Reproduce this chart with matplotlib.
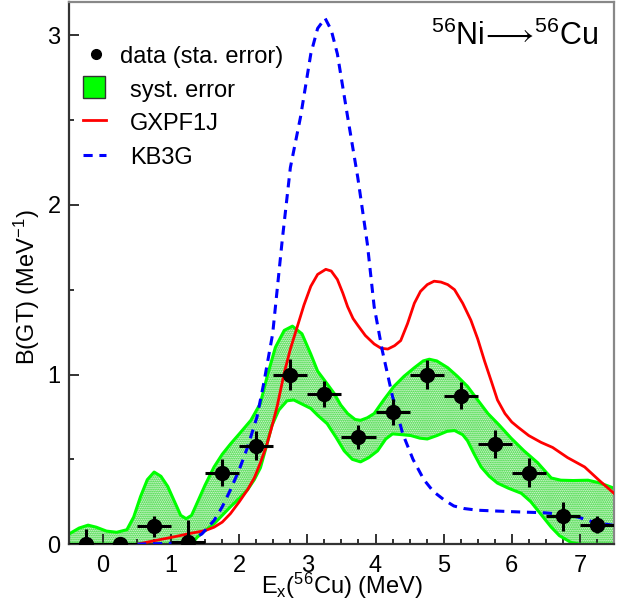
import matplotlib
matplotlib.use('Agg')
import matplotlib.pyplot as plt
from matplotlib.lines import Line2D
from matplotlib.patches import Rectangle
import numpy as np

plt.rcParams['font.family'] = ['Liberation Sans', 'DejaVu Sans']
plt.rcParams['mathtext.fontset'] = 'custom'
plt.rcParams['mathtext.rm'] = 'Liberation Sans'
plt.rcParams['mathtext.it'] = 'Liberation Sans:italic'
plt.rcParams['mathtext.default'] = 'regular'
plt.rcParams['hatch.linewidth'] = 1.0

# measured B(GT) points, 0.5 MeV bins
data_E = [-0.25, 0.25, 0.75, 1.25, 1.75, 2.25, 2.75, 3.25, 3.75, 4.25, 4.75, 5.25, 5.75, 6.25, 6.75, 7.25]
data_B = [0.0, 0.0, 0.105, 0.01, 0.42, 0.58, 1.0, 0.885, 0.63, 0.78, 1.0, 0.875, 0.59, 0.42, 0.165, 0.115]
data_err = [0.09, 0.02, 0.06, 0.13, 0.08, 0.085, 0.09, 0.075, 0.07, 0.075, 0.085, 0.08, 0.08, 0.085, 0.085, 0.05]
bin_half = 0.25

# systematic error band
syst_up_E = [-0.5, -0.35, -0.22, -0.1, 0.05, 0.2, 0.35, 0.45, 0.55, 0.65, 0.75, 0.85, 0.95, 1.05, 1.14,
             1.22, 1.3, 1.4, 1.5, 1.63, 1.75, 1.87, 2.0, 2.17, 2.31, 2.41, 2.53, 2.66, 2.78, 2.92,
             3.05, 3.15, 3.28, 3.39, 3.49, 3.59, 3.7, 3.78, 3.88, 3.98, 4.12, 4.27, 4.42, 4.57, 4.7,
             4.79, 4.9, 5.06, 5.2, 5.35, 5.5, 5.65, 5.82, 5.99, 6.18, 6.38, 6.58, 6.72, 6.9, 7.12, 7.3, 7.5]
syst_up_B = [0.06, 0.095, 0.112, 0.1, 0.077, 0.07, 0.085, 0.16, 0.28, 0.38, 0.425, 0.4, 0.34, 0.25, 0.17,
             0.15, 0.17, 0.26, 0.35, 0.455, 0.53, 0.59, 0.65, 0.73, 0.83, 0.99, 1.16, 1.26, 1.285, 1.24,
             1.12, 1.02, 0.95, 0.89, 0.82, 0.77, 0.735, 0.73, 0.745, 0.77, 0.85, 0.93, 0.99, 1.04, 1.08,
             1.09, 1.08, 1.04, 0.99, 0.93, 0.85, 0.77, 0.7, 0.625, 0.55, 0.48, 0.39, 0.377, 0.375, 0.377, 0.36, 0.33]
syst_lo_E = [-0.5, 1.3, 1.38, 1.5, 1.63, 1.75, 1.87, 2.0, 2.12, 2.22, 2.31, 2.4, 2.48, 2.58, 2.7,
             2.8, 2.95, 3.05, 3.15, 3.29, 3.42, 3.54, 3.66, 3.78, 3.9, 4.03, 4.15, 4.25, 4.4, 4.52,
             4.65, 4.76, 4.9, 5.05, 5.16, 5.28, 5.35, 5.45, 5.55, 5.67, 5.79, 5.95, 6.14, 6.28, 6.38,
             6.48, 6.58, 6.7, 6.87, 7.0, 7.5]
syst_lo_B = [0.0, 0.0, 0.04, 0.08, 0.12, 0.17, 0.22, 0.27, 0.32, 0.38, 0.45, 0.58, 0.7, 0.79, 0.845,
             0.85, 0.82, 0.8, 0.76, 0.71, 0.63, 0.55, 0.5, 0.485, 0.51, 0.55, 0.62, 0.65, 0.645, 0.64,
             0.625, 0.62, 0.64, 0.665, 0.67, 0.645, 0.61, 0.53, 0.455, 0.4, 0.36, 0.33, 0.3, 0.25, 0.2,
             0.15, 0.1, 0.05, 0.01, 0.0, 0.0]

# shell-model calculations
gxpf1j_E = [0.5, 0.75, 1.04, 1.3, 1.5, 1.63, 1.75, 1.87, 2.0, 2.12, 2.22, 2.31, 2.4, 2.49, 2.56,
            2.66, 2.75, 2.85, 2.95, 3.05, 3.15, 3.27, 3.35, 3.44, 3.52, 3.59, 3.67, 3.74, 3.85, 3.98,
            4.08, 4.18, 4.28, 4.37, 4.47, 4.57, 4.66, 4.76, 4.86, 4.96, 5.06, 5.16, 5.28, 5.4, 5.5,
            5.6, 5.7, 5.79, 5.9, 6.0, 6.09, 6.25, 6.43, 6.6, 6.82, 7.07, 7.3, 7.5]
gxpf1j_B = [0.0, 0.02, 0.043, 0.065, 0.08, 0.1, 0.13, 0.18, 0.25, 0.32, 0.39, 0.48, 0.58, 0.71, 0.82,
            1.01, 1.15, 1.28, 1.41, 1.52, 1.59, 1.62, 1.61, 1.56, 1.48, 1.4, 1.33, 1.29, 1.23, 1.18,
            1.155, 1.15, 1.17, 1.2, 1.3, 1.42, 1.49, 1.53, 1.55, 1.545, 1.53, 1.5, 1.42, 1.32, 1.21,
            1.08, 0.96, 0.85, 0.77, 0.72, 0.69, 0.64, 0.6, 0.57, 0.51, 0.455, 0.37, 0.3]
kb3g_E = [0.5, 1.0, 1.25, 1.45, 1.63, 1.75, 1.87, 2.0, 2.12, 2.26, 2.36, 2.49, 2.63, 2.75, 2.9,
          3.05, 3.15, 3.26, 3.35, 3.44, 3.59, 3.74, 3.88, 3.98, 4.1, 4.25, 4.4, 4.55, 4.71, 4.85,
          5.01, 5.15, 5.3, 5.5, 5.79, 6.1, 6.48, 6.75, 6.97, 7.2, 7.5]
kb3g_B = [0.0, 0.005, 0.02, 0.06, 0.14, 0.22, 0.32, 0.44, 0.57, 0.75, 0.95, 1.24, 1.79, 2.22, 2.52,
          2.89, 3.04, 3.1, 3.03, 2.89, 2.52, 2.16, 1.77, 1.4, 1.14, 0.87, 0.65, 0.5, 0.38, 0.31,
          0.26, 0.225, 0.21, 0.2, 0.195, 0.19, 0.185, 0.175, 0.16, 0.13, 0.11]

GREEN = '#00ff00'
HATCH_GREEN = '#00cc00'

fig = plt.figure(figsize=(6.3, 6.08), dpi=100)
ax = fig.add_axes([0.1095, 0.105, 0.865, 0.8915])

# syst. band
band_x = np.r_[syst_up_E, syst_lo_E[::-1]]
band_y = np.r_[syst_up_B, syst_lo_B[::-1]]
ax.fill(band_x, band_y, facecolor='white', edgecolor=HATCH_GREEN, hatch='........', lw=0, zorder=1)
ax.plot(syst_up_E, syst_up_B, color=GREEN, lw=2.2, zorder=2)
ax.plot(syst_lo_E, syst_lo_B, color=GREEN, lw=2.2, zorder=2)

ax.plot(gxpf1j_E, gxpf1j_B, color='red', lw=2.0, zorder=3)
ax.plot(kb3g_E, kb3g_B, color='blue', lw=2.2, dashes=(3, 2.2), zorder=3)

ax.errorbar(data_E, data_B, xerr=bin_half, yerr=data_err, fmt='o', color='black',
            ms=10, elinewidth=2.2, capsize=0, zorder=4)

ax.set_xlim(-0.5, 7.5)
ax.set_ylim(0, 3.195)
ax.set_xticks(range(0, 8))
ax.set_yticks([0, 1, 2, 3])
ax.set_xticks(np.arange(-0.5, 7.51, 0.25), minor=True)
ax.set_yticks(np.arange(0, 3.2, 0.5), minor=True)
ax.tick_params(which='both', direction='in', labelsize=17, width=1.3, color='#222222')
ax.tick_params(which='major', length=7)
ax.tick_params(which='minor', length=3.5)
ax.tick_params(axis='x', pad=8)
ax.tick_params(axis='y', pad=6)

for side in ['left', 'bottom']:
    ax.spines[side].set_linewidth(1.6)
    ax.spines[side].set_color('#333333')
for side in ['top', 'right']:
    ax.spines[side].set_linewidth(1.6)
    ax.spines[side].set_color('#888888')

ax.text(0.5, -0.077, r'E$_{x}$($^{56}$Cu) (MeV)', transform=ax.transAxes,
        ha='center', va='center', fontsize=17)
ax.text(-0.077, 0.474, r'B(GT) (MeV$^{-1}$)', transform=ax.transAxes,
        ha='center', va='center', rotation=90, fontsize=17)
ax.text(0.971, 0.921, r'$^{56}$Ni$\!\longrightarrow\!$$^{56}$Cu', transform=ax.transAxes,
        ha='right', va='baseline', fontsize=22)

# legend drawn by hand (ROOT-like layout)
tr = ax.transAxes
ax.add_line(Line2D([0.0495], [0.905], marker='o', ms=7, color='black', transform=tr, zorder=5))
ax.add_patch(Rectangle((0.025, 0.823), 0.042, 0.04, facecolor='#00ff00', edgecolor='#333333',
                       lw=1.0, transform=tr, zorder=5))
ax.add_line(Line2D([0.025, 0.068], [0.782, 0.782], color='red', lw=2.0, transform=tr, zorder=5))
ax.add_line(Line2D([0.025, 0.068], [0.718, 0.718], color='blue', lw=2.2, dashes=(3, 2.2),
                   transform=tr, zorder=5))
ax.text(0.0936, 0.887, 'data (sta. error)', transform=tr, fontsize=17, va='baseline')
ax.text(0.112, 0.825, 'syst. error', transform=tr, fontsize=17, va='baseline')
ax.text(0.112, 0.765, 'GXPF1J', transform=tr, fontsize=17, va='baseline')
ax.text(0.112, 0.702, 'KB3G', transform=tr, fontsize=17, va='baseline')

fig.savefig('out.png', dpi=100)
